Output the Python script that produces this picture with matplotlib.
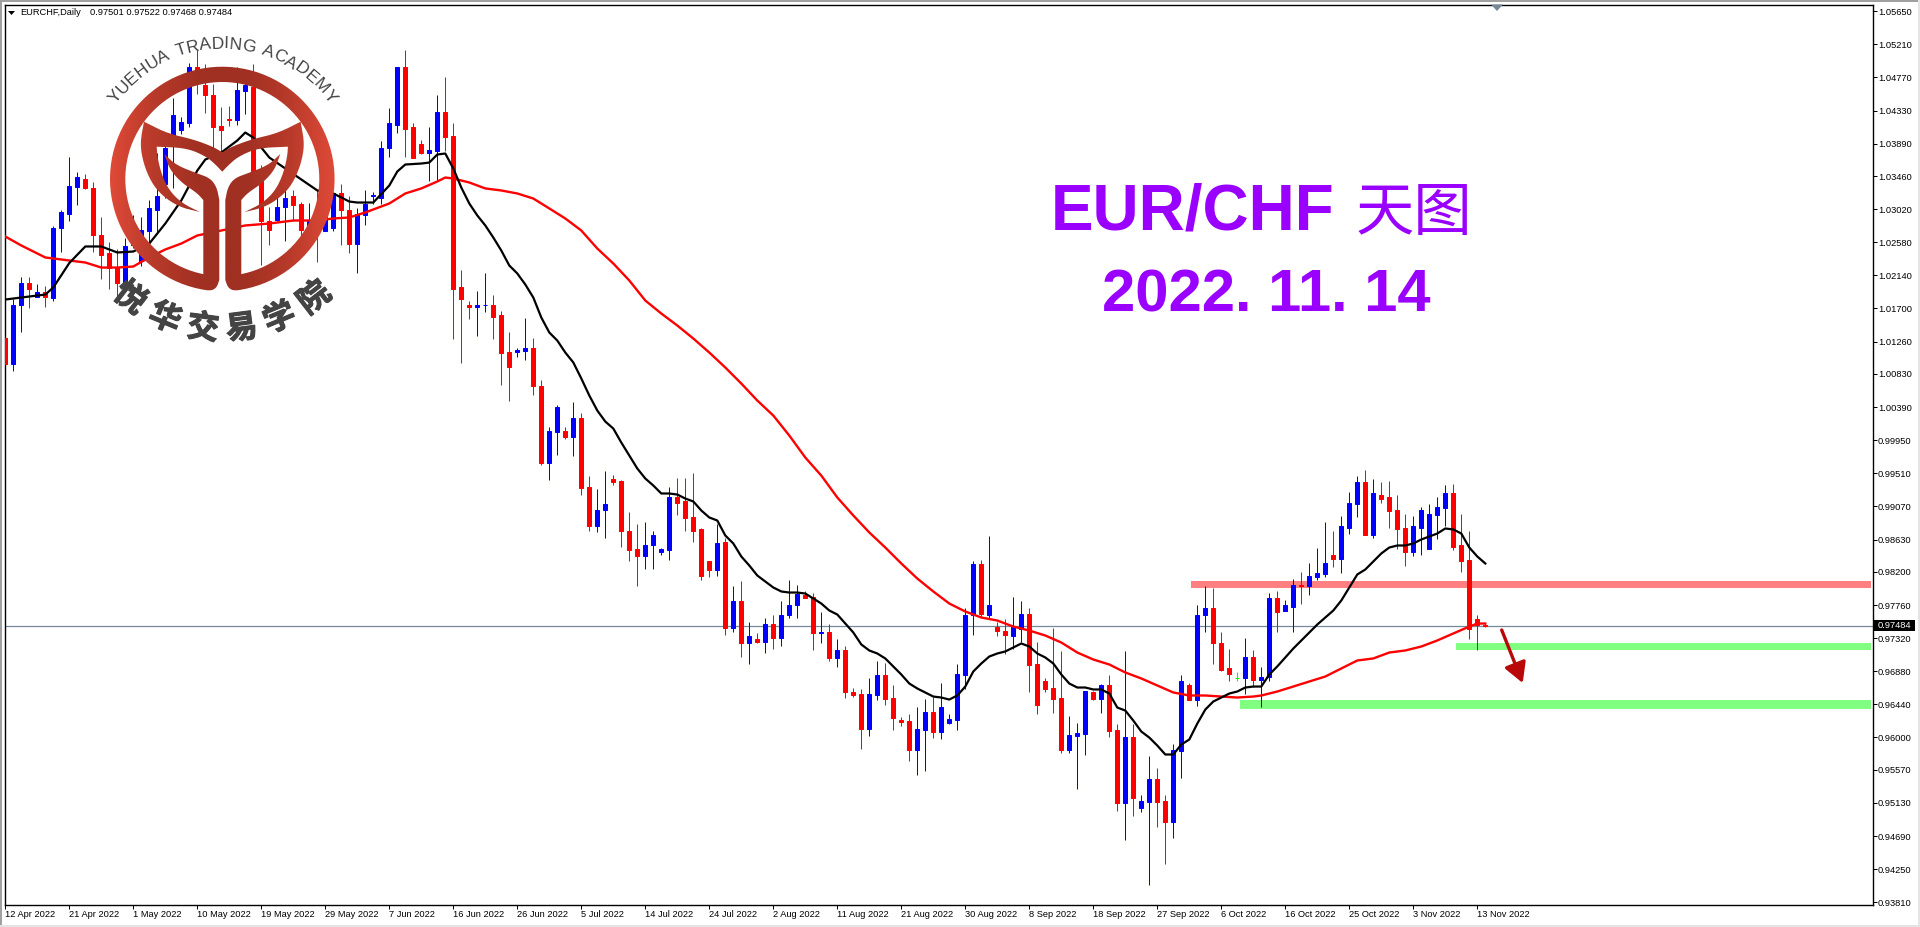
import numpy as np
import matplotlib
matplotlib.use("Agg")
import matplotlib.pyplot as plt
import matplotlib.patheffects as pe
from matplotlib.colors import LinearSegmentedColormap
from matplotlib.font_manager import FontProperties
from matplotlib.patches import PathPatch, Polygon, Rectangle
from matplotlib.path import Path
from matplotlib.textpath import text_to_path

# daily bars, prices in points (1e-5)
highs = [101554,101832,102125,102125,102032,102005,102790,103015,103719,103520,
         103493,103374,102909,102590,102497,102643,102936,102922,103148,103772,
         103932,104503,104250,104968,105128,104942,104689,104383,104397,104902,
         104875,104955,103600,103042,103268,103268,103268,103121,103108,103268,
         103135,103241,103360,103188,103029,103268,103254,103919,104370,104915,
         105141,104158,103945,104105,104530,104782,104171,102218,101806,101938,
         102165,101885,101660,101394,101181,101580,101314,100756,100132,100424,
         100132,100464,100317,99480,99308,99547,99494,99427,98990,98843,
         98857,98750,98524,99334,99453,99453,99520,98777,98339,98830,
         98644,98019,98073,97528,97382,97581,97634,97820,98086,98020,
         97940,97926,97661,97514,97315,97209,96651,96638,96797,97010,
         96996,96704,96278,96318,96411,96518,96544,96730,96318,96983,
         97727,98339,98352,98671,97541,97568,97873,97807,97714,97275,
         96784,97461,97143,96292,96199,96624,96624,96717,96824,96185,
         97143,96185,95242,95760,95601,95242,95920,96824,96730,97754,
         98007,97980,97395,97182,96864,97328,97156,96930,97926,97940,
         97833,98100,98193,98312,98524,98857,98737,98937,99268,99480,
         99560,99441,99401,99414,99228,98963,98937,99056,99096,99189,
         99361,99374,98963,98750,97634,97522]
body_tops = [101314,101753,102045,102045,101925,101925,102776,102976,103333,103453,
             103414,103307,102683,102431,102244,102524,102842,102749,103029,103201,
             103839,104277,104184,104902,104902,104676,104543,104131,104224,104609,
             104663,104649,103400,102869,103055,103174,103188,103082,102869,102962,
             102962,103241,103241,103015,102949,103082,103214,103839,104158,104902,
             104902,104105,103879,103812,104317,104317,103998,101979,101740,101753,
             101753,101753,101607,101128,101155,101181,101181,100676,100078,100397,
             100078,100251,100251,99334,99029,99096,99441,99414,98750,98498,
             98564,98697,98498,99189,99189,99136,98923,98764,98339,98578,
             98591,97807,97807,97355,97302,97514,97514,97634,97767,97913,
             97887,97873,97408,97408,97169,97169,96598,96584,96584,96824,
             96824,96531,96239,96225,96119,96345,96345,96411,96252,96837,
             97634,98299,98299,97767,97474,97421,97474,97647,97647,96970,
             96757,96651,96531,96039,96066,96624,96611,96691,96691,96106,
             96013,96013,95162,95454,95454,95162,95840,96744,96691,97634,
             97714,97714,97262,96917,96797,97063,97063,96810,97847,97847,
             97754,98020,98020,98152,98179,98312,98431,98804,99109,99388,
             99388,99255,99228,99189,99016,98777,98804,99016,98976,99069,
             99255,99255,98551,98352,97568,97501]
body_bots = [100956,100956,101740,101965,101859,101859,101846,102763,102962,103320,
             103295,102670,102417,102244,102045,102045,102537,102337,102736,103015,
             103360,103998,104078,104171,104849,104530,104118,104078,104211,104211,
             104596,103533,102856,102749,102882,103042,103069,102749,102776,102776,
             102723,102763,103002,102563,102563,102936,103188,103174,103826,104144,
             104091,103706,103772,103772,103799,103985,101965,101832,101726,101726,
             101740,101593,101115,100916,101128,101141,100664,99653,99653,100065,
             99999,99999,99321,98804,98804,99016,99401,98737,98485,98405,
             98405,98551,98471,98485,99109,98910,98750,98152,98232,98232,
             97461,97461,97262,97262,97275,97275,97328,97328,97621,97754,
             97860,97382,97382,97050,97050,96611,96571,96119,96119,96571,
             96518,96265,96212,95840,95840,96106,96079,96079,96199,96239,
             96824,97634,97647,97634,97421,97368,97355,97435,96957,96438,
             96638,96518,95840,95840,96026,96052,96518,96518,96092,95135,
             95135,95202,95069,95149,95149,94883,94883,95814,96504,96504,
             97621,97249,96903,96837,96797,96797,96770,96770,96810,97661,
             97674,97740,98007,98007,98139,98166,98365,98365,98790,99096,
             98697,98697,99175,99003,98764,98458,98458,98790,98498,98950,
             99043,98537,98339,97448,97501,97484]
lows = [100876,100863,101381,101713,101859,101726,101793,102457,102869,103069,
        103281,102444,102098,101965,101859,101938,102510,102271,102563,102696,
        103174,103307,104025,104118,104556,104304,103799,103799,104131,104144,
        104290,103307,102284,102537,102869,102603,102869,102643,102736,102324,
        102723,102736,102537,102431,102165,102803,103082,103082,103719,104038,
        103719,103706,103759,103400,103400,103799,101288,100970,101554,101341,
        101647,101301,100677,100477,101062,101022,100544,99627,99427,99759,
        99972,99746,99228,98737,98724,98644,99361,98537,98339,98019,
        98245,98245,98431,98352,98950,98750,98604,98086,98126,98152,
        97368,97408,97063,96970,97249,97116,97182,97222,97594,97581,
        97847,97169,97249,97010,96930,96531,96544,95853,96026,96504,
        96438,96106,96159,95694,95508,95561,95999,95986,96185,96106,
        96638,97368,97607,97594,97355,97103,97182,97275,96598,96318,
        96598,96332,95800,95800,95309,95774,96504,96332,96013,95029,
        94644,94963,95016,94046,94817,94325,94670,95468,96504,96425,
        97408,96970,96890,96744,96744,96584,96677,96411,96744,97395,
        97674,97408,97780,97887,98086,98139,98259,98179,98710,98923,
        98684,98657,99122,98790,98498,98285,98405,98431,98498,98631,
        98804,98485,98193,97302,97156,97468]
# R down, B up, G flat
bar_dirs = ("RBBRBRBBBB" "RRRRRBBBBB" "BBBBRRRRRB" "BRRRBBRRBR" "BBRRBBBBBB"
            "RRRBBRRRRB" "BRRRBBRRBB" "RBRRBBRRRR" "BBBBRRRRRB" "RBRBRBRBBB"
            "RRBRBRRRBB" "RRRRBBRBBB" "BBRBRRBBRR" "RRRBBBRBRR" "BRBBRRBBRB"
            "BRRRGBRBBR" "BBRBBBRBBB" "RBRRRRBBBB" "BRRRRR")

black_idx = [0,2,5,6,8,10,12,14,16,18,20,22,24,25,27,29,30,31,33,35,37,39,41,43,44,46,48,
             49,50,52,53] + list(range(54, 186))
black_ma = [101819,101846,101885,101979,102304,102524,102524,102444,102457,102563,102829,
            103135,103533,103679,103772,103932,104038,103971,103706,103560,103414,103268,
            103228,103121,103108,103108,103334,103520,103613,103626,103639,
            103746,103759,103560,103307,103095,102936,102803,102643,102470,102271,
            102165,102019,101846,101580,101381,101274,101115,100983,100770,100544,
            100344,100198,100105,99919,99746,99574,99441,99348,99242,99242,
            99228,99175,99136,99016,98923,98883,98684,98578,98405,98285,
            98152,98073,97993,97940,97926,97926,97913,97847,97780,97687,
            97634,97514,97395,97236,97156,97116,97050,96944,96837,96717,
            96651,96598,96544,96531,96504,96558,96677,96877,96983,97076,
            97116,97143,97196,97249,97209,97116,97063,96983,96837,96717,
            96664,96664,96638,96638,96584,96398,96358,96225,96079,95999,
            95893,95774,95774,95907,95973,96185,96371,96478,96531,96584,
            96611,96664,96677,96677,96837,96944,97063,97182,97289,97395,
            97501,97594,97687,97820,97993,98166,98232,98339,98445,98524,
            98551,98551,98578,98631,98670,98710,98777,98764,98710,98524,98405,98312]

red_idx = [0,2,4,5,7,9,10,12,14,16,18,20,22,24,27,30,33,36,39,41,43,45,48,50,52,54,55,56,58,
           60,62,64,66,68,70,72,74,76,78,80,82,84,86,88,90,92,94,96,98,100,102,104,106,108,
           110,112,114,116,118,120,122,124,126,128,130,132,134,136,138,140,142,144,146,148,
           150,152,154,156,157,159,161,163,165,167,169,171,173,175,177,179,181,183,184,185]
red_ma = [102656,102537,102431,102378,102351,102324,102311,102244,102244,102258,102378,
          102484,102563,102670,102736,102803,102829,102869,102869,102896,102909,102976,
          103095,103228,103295,103387,103440,103427,103374,103295,103268,103228,103161,
          103029,102896,102736,102497,102298,102072,101806,101633,101474,101301,101115,
          100916,100703,100477,100278,100012,99720,99480,99189,98950,98724,98524,98312,
          98112,97940,97780,97674,97594,97554,97474,97421,97355,97262,97129,97036,96970,
          96864,96784,96691,96598,96558,96558,96544,96531,96544,96558,96611,96677,96744,
          96810,96917,97023,97050,97129,97156,97209,97289,97382,97474,97514,97514]

date_labels = ["12 Apr 2022","21 Apr 2022","1 May 2022","10 May 2022","19 May 2022","29 May 2022",
               "7 Jun 2022","16 Jun 2022","26 Jun 2022","5 Jul 2022","14 Jul 2022","24 Jul 2022",
               "2 Aug 2022","11 Aug 2022","21 Aug 2022","30 Aug 2022","8 Sep 2022","18 Sep 2022",
               "27 Sep 2022","6 Oct 2022","16 Oct 2022","25 Oct 2022","3 Nov 2022","13 Nov 2022"]
price_ticks = [1.05650,1.05210,1.04770,1.04330,1.03890,1.03460,1.03020,1.02580,1.02140,1.01700,
               1.01260,1.00830,1.00390,0.99950,0.99510,0.99070,0.98630,0.98200,0.97760,0.97320,
               0.96880,0.96440,0.96000,0.95570,0.95130,0.94690,0.94250,0.93810]
last_price = 0.97484

# zones drawn on the chart: first bar, upper price, lower price
zone_starts = [148.2, 181.3, 154.3]
zone_tops = [0.98073, 0.97262, 0.96504]
zone_bots = [0.97980, 0.97169, 0.96385]
zone_colors = ["#ff8080", "#80ff80", "#80ff80"]

BLUE = "#0000ff"
RED = "#ff0000"
PURPLE = "#9900ff"
GREY = "#444444"
SMALL = 6.7
W, H = 1920, 927
PX = 0.72

plt.rcParams["font.family"] = ["Liberation Sans", "Noto Sans CJK SC", "DejaVu Sans"]

fig = plt.figure(figsize=(W / 100, H / 100), dpi=100, facecolor="white")
ax = fig.add_axes([4.5 / W, 1 - 904.5 / H, 1868 / W, 900 / H])
ax.set_xlim(-0.1, 233.4)
ax.set_ylim(0.93781, 1.05739)

x = np.arange(len(highs))
hi, lo = np.array(highs) / 1e5, np.array(lows) / 1e5
top, bot = np.array(body_tops) / 1e5, np.array(body_bots) / 1e5
cols = np.array([{"R": RED, "B": BLUE, "G": "#00ff00"}[d] for d in bar_dirs])

for start, z_top, z_bot, col in zip(zone_starts, zone_tops, zone_bots, zone_colors):
    ax.fill_between([start, 233.2], z_bot, z_top, color=col, lw=0, zorder=1)

ax.axhline(last_price, color="#778899", lw=0.9, zorder=1.5)
ax.vlines(x, lo, hi, colors=cols, lw=PX, zorder=2)
ax.bar(x, top - bot, bottom=bot, width=0.5, color=cols, edgecolor=cols, lw=PX, zorder=3)
ax.plot(red_idx, np.array(red_ma) / 1e5, color=RED, lw=1.7, zorder=4)
ax.plot(black_idx, np.array(black_ma) / 1e5, color="black", lw=1.6, zorder=5)

ax.set_xticks(np.arange(len(date_labels)) * 8)
ax.set_xticklabels(date_labels, ha="left", fontsize=SMALL)
ax.yaxis.tick_right()
ax.set_yticks(price_ticks)
ax.set_yticklabels([f"{p:.5f}" for p in price_ticks], fontsize=SMALL)
ax.tick_params(axis="both", length=3, width=PX, pad=1.0, color="black")
for s in ax.spines.values():
    s.set_linewidth(1.0)

# overlay in image pixels for the window frame, notes and logo
ov = fig.add_axes([0, 0, 1, 1], zorder=10)
ov.set_xlim(0, W)
ov.set_ylim(H, 0)
ov.axis("off")
ov.patch.set_alpha(0)

ov.add_patch(Rectangle((0, 0), W, 2, color="#a0a0a0", lw=0))
ov.add_patch(Rectangle((0, 0), 1.6, H - 2, color="#a0a0a0", lw=0))
ov.add_patch(Rectangle((1918, 0), 2, H, color="#e4e4e4", lw=0))
ov.add_patch(Rectangle((0, 925), W, 2, color="#e4e4e4", lw=0))
ov.add_patch(Polygon([(1491, 4.5), (1503, 4.5), (1497, 11)], color="#778899", lw=0))
ov.add_patch(Polygon([(8, 11), (15, 11), (11.5, 15)], color="black", lw=0))
ov.text(20, 12.5, "EURCHF,Daily", fontsize=SMALL, va="center")
ov.text(90, 12.5, "0.97501 0.97522 0.97468 0.97484", fontsize=SMALL, va="center")

ov.add_patch(Rectangle((1874, 620), 41, 11, color="black", lw=0))
ov.text(1878, 625.6, f"{last_price:.5f}", color="white", fontsize=SMALL, va="center")

ov.annotate("", xy=(1522.7, 683), xytext=(1501.7, 630),
            arrowprops=dict(arrowstyle="-|>,head_length=0.8,head_width=0.45", color="#b80808",
                            lw=2.4, mutation_scale=15, shrinkA=0, shrinkB=0))

ov.text(1051, 229, "EUR/CHF", color=PURPLE, fontsize=46, fontweight="bold", va="baseline")
ov.text(1356, 230, "天图", color=PURPLE, fontsize=42, va="baseline", family="Noto Sans CJK SC")
ov.text(1102, 312, "2022. 11. 14", color=PURPLE, fontsize=43, fontweight="bold", va="baseline")


def chaikin(pts, rounds=3):
    # round off a hand-traced outline, ends stay put
    pts = np.array(pts, dtype=float)
    for _ in range(rounds):
        q = pts[:-1] * 0.75 + pts[1:] * 0.25
        r = pts[:-1] * 0.25 + pts[1:] * 0.75
        mid = np.empty((len(q) * 2, 2))
        mid[0::2], mid[1::2] = q, r
        pts = np.vstack([pts[0], mid, pts[-1]])
    return pts


CX, CY = 222.3, 179.0
t_out = np.radians(np.linspace(97, 443, 200))
t_in = np.radians(np.linspace(439, 101, 200))
ring = np.vstack([np.c_[CX + 112.3 * np.cos(t_out), CY + 112.3 * np.sin(t_out)],
                  np.c_[CX + 97 * np.cos(t_in), CY + 97 * np.sin(t_in)]])

# left half outlines, the right half mirrors them
horn_top = chaikin([(222.3, 152.3), (213, 146.7), (193, 139.3), (167, 133.3), (144, 121.7)])
horn_out = chaikin([(144, 121.7), (140, 143.3), (143.3, 163.3), (151.7, 183.3), (163.3, 196.7),
                    (180, 207.3), (200, 212)])
horn_in = chaikin([(200, 212), (183.3, 204), (170, 191.7), (161.7, 175), (157.3, 156.7), (156.7, 146.7)])
horn_mid = chaikin([(156.7, 146.7), (186.7, 148), (206.7, 156.7), (216.7, 165.7), (222.3, 171.7)])
left_half = np.vstack([horn_top, horn_out, horn_in, horn_mid])
horn = np.vstack([left_half[::-1], np.c_[2 * CX - left_half[:, 0], left_half[:, 1]]])

stem_top = chaikin([(164.3, 154), (176, 165), (196, 173), (210, 178), (216.7, 187), (219.3, 200)])
stem_low = chaikin([(219.3, 280), (216.5, 288), (210, 291), (203.3, 288)])
stem_back = chaikin([(203.3, 200), (197, 193), (182, 183), (170, 170), (164.3, 154)])
stem_l = np.vstack([stem_top, stem_low, stem_back])
stem_r = np.c_[2 * CX - stem_l[:, 0], stem_l[:, 1]]

logo_cmap = LinearSegmentedColormap.from_list(
    "logo", ["#e04a38", "#b83a2a", "#a03022", "#a03022", "#b83a2a", "#e04a38"])
grad = np.linspace(0, 1, 256).reshape(1, -1)
for outline in [ring, horn, stem_l, stem_r]:
    im = ov.imshow(grad, cmap=logo_cmap, extent=(CX - 113, CX + 113, 300, 60), aspect="auto", zorder=6)
    im.set_clip_path(PathPatch(Path(outline), transform=ov.transData))
ov.set_xlim(0, W)
ov.set_ylim(H, 0)

academy = "YUEHUA TRADING ACADEMY"
fp = FontProperties(family="Liberation Sans", size=12.5)
widths = [text_to_path.get_text_width_height_descent(c, fp, False)[0] for c in academy]
widths = [w if c != " " else 5.0 for c, w in zip(academy, widths)]
edges = np.cumsum([0] + widths)
angles = ((edges[:-1] + edges[1:]) / 2 / edges[-1] - 0.5) * 2 * 55
for c, a in zip(academy, angles):
    t = np.radians(a)
    ov.text(CX + 135 * np.sin(t), CY - 135 * np.cos(t), c, fontproperties=fp, color=GREY,
            rotation=-a, ha="center", va="center", rotation_mode="anchor", zorder=7)

for c, a in zip("悦华交易学院", [-37.8, -22.4, -7.4, 7.4, 22.4, 37.8]):
    t = np.radians(a)
    ov.text(CX + 151 * np.sin(t), CY + 151 * np.cos(t), c, color=GREY, fontsize=23,
            family="Noto Sans CJK SC", fontweight="bold", rotation=a, ha="center", va="center",
            rotation_mode="anchor", zorder=7,
            path_effects=[pe.withStroke(linewidth=0.8, foreground=GREY)])

fig.savefig("out.png", dpi=100)
